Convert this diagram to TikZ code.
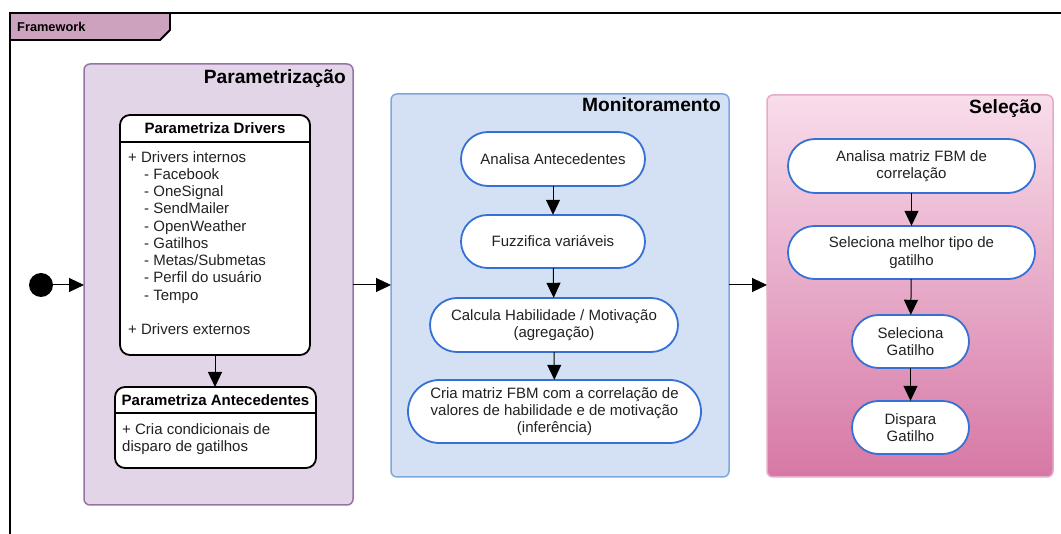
\documentclass[tikz,border=0pt]{standalone}
\usepackage{fontspec}
\setmainfont{Liberation Sans}
\usetikzlibrary{arrows.meta,positioning,calc}
\definecolor{tabfill}{HTML}{CDA2BE}
\definecolor{parfill}{HTML}{E1D5E7}
\definecolor{parline}{HTML}{9673A6}
\definecolor{monfill}{HTML}{D4E1F5}
\definecolor{monline}{HTML}{7EA6E0}
\definecolor{seltop}{HTML}{F8DDEB}
\definecolor{selbot}{HTML}{D678A5}
\definecolor{selline}{HTML}{E8A8C8}
\definecolor{nodeline}{HTML}{3470D6}
\definecolor{txt}{HTML}{222222}
\tikzset{
  x=1pt,y=-1pt,
  body/.style={font=\fontsize{15}{17.25}\selectfont, text=txt},
  ttl/.style={font=\fontsize{19.2}{22}\selectfont\bfseries, text=black, anchor=north east, inner sep=0pt},
  hdr/.style={font=\fontsize{15}{17}\selectfont\bfseries, inner sep=0pt},
  container/.style={rounded corners=6pt, line width=1.5pt},
  umlbox/.style={draw=black, fill=white, line width=1.8pt, rounded corners=10pt},
  flow/.style={draw=black, line width=1pt, -{Triangle[length=15pt,width=14pt]}},
}
\newcommand{\stadiumnode}[6]{% name, x1, y1, x2, y2, text
  \fill[white,rounded corners={((#5)-(#3))/2*1pt}] (#2,#3) rectangle (#4,#5);
  \draw[draw=nodeline,line width=1.8pt,rounded corners={((#5)-(#3))/2*1pt}] (#2,#3) rectangle (#4,#5);
  \node[body, align=center, inner sep=0pt, minimum width={(#4)-(#2)}, minimum height={(#5)-(#3)}] (#1) at ({((#2)+(#4))/2},{((#3)+(#5))/2}) {#6};
}
\begin{document}
\begin{tikzpicture}
\useasboundingbox (0,0) rectangle (1061,534);
% framework frame
\draw[line width=1.8pt] (10,545) -- (10,13) -- (1070,13);
\filldraw[fill=tabfill, draw=black, line width=1.8pt] (10,13) -- (170,13) -- (170,30) -- (160,40) -- (10,40) -- cycle;
\node[anchor=west, font=\fontsize{12.8}{14}\selectfont\bfseries, inner sep=0pt] (fw) at (17,26.5) {Framework};

% containers
\filldraw[container, fill=parfill, draw=parline] (84,64) rectangle (353,505);
\node[ttl] (tpar) at (346,69) {Parametrização};
\coordinate (parL) at (84,285);
\coordinate (parR) at (353,285);

\filldraw[container, fill=monfill, draw=monline] (391,94) rectangle (729,477);
\node[ttl] (tmon) at (721,97) {Monitoramento};
\coordinate (monL) at (391,285);
\coordinate (monR) at (729,285);

\shade[top color=seltop, bottom color=selbot, rounded corners=6pt] (767,95) rectangle (1053,477);
\draw[container, draw=selline] (767,95) rectangle (1053,477);
\node[ttl] (tsel) at (1042,99) {Seleção};
\coordinate (selL) at (767,285);

% initial node
\node[circle, fill=black, minimum size=24pt, inner sep=0pt] (start) at (41,285) {};
\draw[flow] (start) -- (parL);
\draw[flow] (parR) -- (monL);
\draw[flow] (monR) -- (selL);

% Parametriza Drivers
\draw[umlbox] (120,115) rectangle (310,355);
\draw[line width=1.8pt] (120,142) -- (310,142);
\node[hdr] (pdh) at (215,128.5) {Parametriza Drivers};
\node[body, anchor=north west, align=left, inner sep=0pt] (pdb) at (128,151)
 {+ Drivers internos\\
  \hspace*{16pt}- Facebook\\
  \hspace*{16pt}- OneSignal\\
  \hspace*{16pt}- SendMailer\\
  \hspace*{16pt}- OpenWeather\\
  \hspace*{16pt}- Gatilhos\\
  \hspace*{16pt}- Metas/Submetas\\
  \hspace*{16pt}- Perfil do usuário\\
  \hspace*{16pt}- Tempo\\[17.25pt]
  + Drivers externos};
\coordinate (pdB) at (215,355);

% Parametriza Antecedentes
\draw[umlbox] (115,387) rectangle (316,468);
\draw[line width=1.8pt] (115,413) -- (316,413);
\node[hdr] (pah) at (215.5,400) {Parametriza Antecedentes};
\node[body, anchor=north west, align=left, inner sep=0pt] (pab) at (122,423)
 {+ Cria condicionais de\\disparo de gatilhos};
\coordinate (paT) at (215,387);
\draw[flow] (pdB) -- (paT);

% Monitoramento nodes
\stadiumnode{m1}{461}{132}{645}{186}{Analisa Antecedentes}
\stadiumnode{m2}{461}{215}{645}{268}{Fuzzifica variáveis}
\stadiumnode{m3}{430}{298}{678}{352}{Calcula Habilidade / Motivação\\(agregação)}
\stadiumnode{m4}{408}{380}{701}{443}{Cria matriz FBM com a correlação de\\valores de habilidade e de motivação\\(inferência)}
\draw[flow] (m1) -- (m2);
\draw[flow] (m2) -- (m3);
\draw[flow] (m3) -- (m4);

% Selecao nodes
\stadiumnode{s1}{788}{139}{1035}{193}{Analisa matriz FBM de\\correlação}
\stadiumnode{s2}{788}{226}{1035}{279}{Seleciona melhor tipo de\\gatilho}
\stadiumnode{s3}{852}{315}{969}{368}{Seleciona\\Gatilho}
\stadiumnode{s4}{852}{401}{969}{454}{Dispara\\Gatilho}
\draw[flow] (s1) -- (s2);
\draw[flow] (s2) -- (s3);
\draw[flow] (s3) -- (s4);
\end{tikzpicture}
\end{document}
